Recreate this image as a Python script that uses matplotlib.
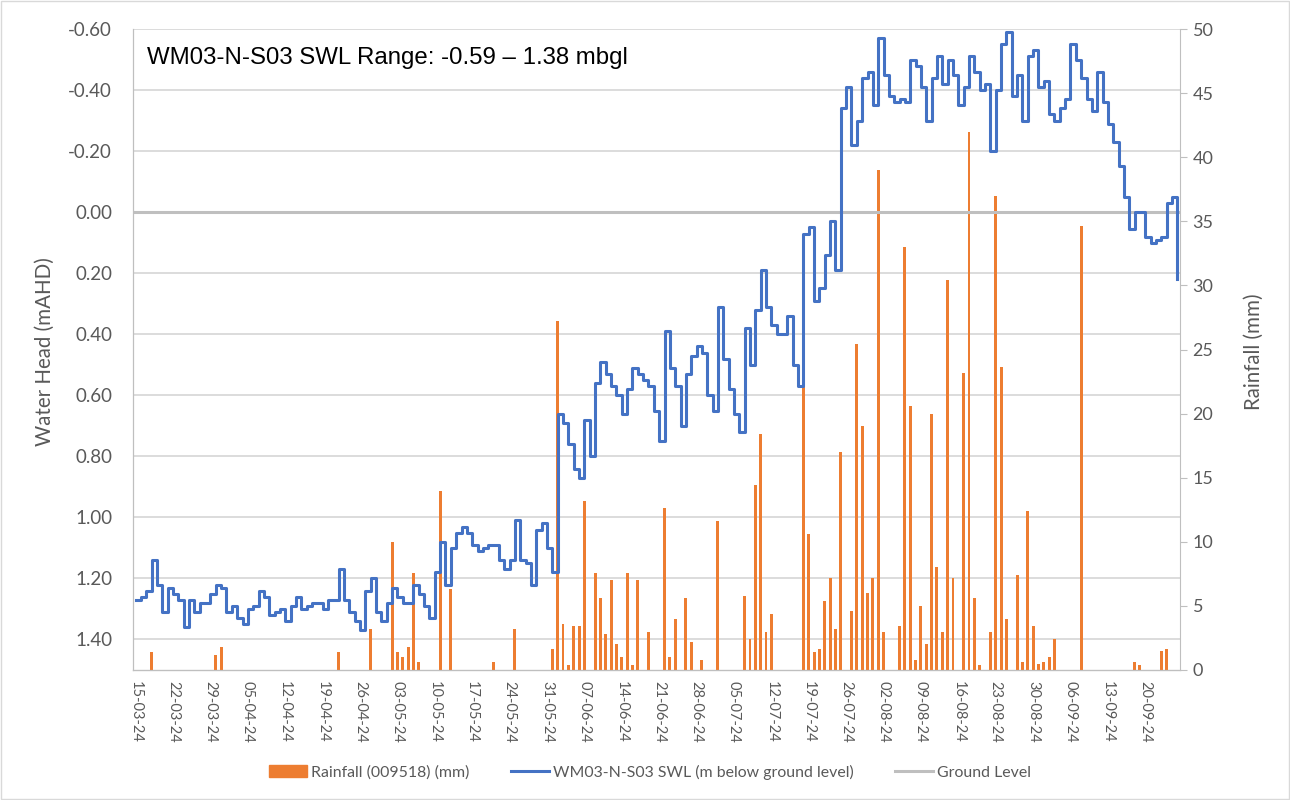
import matplotlib
matplotlib.use('Agg')
import matplotlib.pyplot as plt
import matplotlib.dates as mdates
import matplotlib.patches as mpatches
from matplotlib.lines import Line2D
from matplotlib.ticker import FuncFormatter, MultipleLocator
import pandas as pd

# daily standing water level (m below ground), from 15-03-24
start = pd.Timestamp('2024-03-15')
swl = [
    1.27, 1.26, 1.24, 1.14, 1.22, 1.31, 1.23, 1.25, 1.27, 1.36,
    1.27, 1.31, 1.28, 1.28, 1.25, 1.22, 1.23, 1.31, 1.29, 1.33,
    1.35, 1.30, 1.29, 1.24, 1.26, 1.32, 1.31, 1.30, 1.34, 1.29,
    1.26, 1.30, 1.29, 1.28, 1.28, 1.30, 1.27, 1.27, 1.17, 1.27,
    1.31, 1.34, 1.37, 1.24, 1.20, 1.31, 1.34, 1.28, 1.23, 1.26,
    1.28, 1.28, 1.22, 1.25, 1.29, 1.33, 1.18, 1.08, 1.22, 1.10,
    1.05, 1.03, 1.05, 1.09, 1.11, 1.10, 1.09, 1.09, 1.14, 1.17,
    1.14, 1.01, 1.14, 1.15, 1.22, 1.04, 1.02, 1.10, 1.18, 0.66,
    0.69, 0.76, 0.84, 0.87, 0.68, 0.80, 0.56, 0.49, 0.53, 0.57,
    0.60, 0.66, 0.58, 0.51, 0.53, 0.55, 0.57, 0.65, 0.75, 0.39,
    0.51, 0.57, 0.70, 0.53, 0.47, 0.44, 0.46, 0.60, 0.65, 0.31,
    0.48, 0.58, 0.66, 0.72, 0.38, 0.50, 0.32, 0.19, 0.31, 0.37,
    0.40, 0.40, 0.34, 0.50, 0.57, 0.07, 0.05, 0.29, 0.25, 0.14,
    0.03, 0.19, -0.34, -0.41, -0.22, -0.30, -0.44, -0.46, -0.35, -0.57,
    -0.45, -0.38, -0.36, -0.37, -0.36, -0.50, -0.48, -0.41, -0.30, -0.44,
    -0.51, -0.42, -0.50, -0.45, -0.35, -0.41, -0.51, -0.46, -0.40, -0.42,
    -0.20, -0.40, -0.55, -0.59, -0.38, -0.45, -0.30, -0.51, -0.53, -0.41,
    -0.43, -0.32, -0.30, -0.34, -0.37, -0.55, -0.50, -0.44, -0.37, -0.33,
    -0.46, -0.36, -0.29, -0.23, -0.15, -0.05, 0.055, 0.00, 0.00, 0.08,
    0.10, 0.09, 0.08, -0.03, -0.05, 0.22,
]

# rainfall (009518), days after 15-03-24 and mm
rain_day = [3, 15, 16, 38, 44, 48, 49, 50, 51, 52, 53, 57, 59, 67, 71,
            78, 79, 80, 81, 82, 83, 84, 86, 87, 88, 89, 90, 91, 92, 93,
            94, 96, 99, 100, 101, 103, 104, 106, 109, 114, 115, 116, 117,
            118, 119, 125, 126, 127, 128, 129, 130, 131, 132, 134, 135,
            136, 137, 138, 139, 140, 143, 144, 145, 146, 147, 148, 149,
            150, 151, 152, 153, 155, 156, 157, 158, 160, 161, 162, 163,
            165, 166, 167, 168, 169, 170, 171, 172, 177, 187, 188, 192, 193]
rain_mm = [1.4, 1.2, 1.8, 1.4, 3.2, 10.0, 1.4, 1.0, 1.8, 7.6, 0.6, 14.0, 6.3, 0.6, 3.2,
           1.6, 27.2, 3.6, 0.4, 3.4, 3.4, 13.2, 7.6, 5.6, 2.8, 7.0, 2.0, 1.0, 7.6, 0.4,
           7.0, 3.0, 12.6, 1.0, 4.0, 5.6, 2.2, 0.8, 11.6, 5.8, 2.4, 14.4, 18.4,
           3.0, 4.4, 29.6, 10.6, 1.4, 1.6, 5.4, 7.2, 3.2, 17.0, 4.6, 25.4,
           19.0, 6.0, 7.2, 39.0, 3.0, 3.4, 33.0, 20.6, 0.8, 5.0, 2.0, 20.0,
           8.0, 3.0, 30.4, 7.2, 23.2, 42.0, 5.6, 0.4, 3.0, 37.0, 23.6, 4.0,
           7.4, 0.65, 12.4, 3.4, 0.45, 0.6, 1.0, 2.4, 34.6, 0.6, 0.4, 1.45, 1.65]

ground_level = 0.0
title = 'WM03-N-S03 SWL Range: -0.59 \u2013 1.38 mbgl'

days = pd.date_range(start, periods=len(swl), freq='D')
rain_dates = start + pd.to_timedelta(rain_day, unit='D')

plt.rcParams['font.family'] = ['Lato', 'DejaVu Sans']
txt = '#595959'
grid_c = '#D9D9D9'
axis_c = '#BFBFBF'

fig = plt.figure(figsize=(12.9, 8.0), dpi=100)
ax = fig.add_axes([133/1290, 130/800, 1047/1290, 641/800])
ax2 = ax.twinx()
ax3 = ax.twinx()

# left axis: gridlines + labels
ax.set_ylim(1.5, -0.6)
ax.yaxis.set_major_locator(MultipleLocator(0.2))
ax.yaxis.set_major_formatter(FuncFormatter(lambda v, p: f'{v:.2f}'))
ax.yaxis.grid(True, color=grid_c, lw=1.3)
ax.set_axisbelow(True)
ax.tick_params(axis='y', length=0, pad=15, labelsize=13.5, labelcolor=txt)
ax.set_ylabel('Water Head (mAHD)', fontsize=14.8, color=txt)
ax.yaxis.set_label_coords(-0.0745, 0.496)

# rainfall bars
ax2.bar(rain_dates, rain_mm, width=0.55, color='#ED7D31', zorder=2)
ax2.set_ylim(0, 50)
ax2.yaxis.set_major_locator(MultipleLocator(5))
ax2.tick_params(axis='y', length=5, color=axis_c, pad=4, labelsize=13, labelcolor=txt)
ax2.set_ylabel('Rainfall (mm)', fontsize=14.8, color=txt, rotation=90)
ax2.yaxis.set_label_coords(1.061, 0.496)

# water level line on top
ax3.set_ylim(1.5, -0.6)
ax3.axhline(ground_level, color=axis_c, lw=2.2)
ax3.step(days, swl, where='post', color='#4472C4', lw=2.2)
ax3.set_yticks([])

for a in (ax, ax2, ax3):
    a.spines['top'].set_visible(False)
    for s in ('left', 'right', 'bottom'):
        a.spines[s].set_color(axis_c)
ax3.spines['left'].set_visible(False)
ax3.spines['right'].set_visible(False)
ax.spines['right'].set_visible(False)

ax.set_xlim(start - pd.Timedelta(hours=12), start + pd.Timedelta(days=195, hours=12))
ax.set_xticks(pd.date_range(start, start + pd.Timedelta(days=189), freq='7D'))
ax.xaxis.set_major_formatter(mdates.DateFormatter('%d-%m-%y'))
ax.tick_params(axis='x', length=0, pad=8, labelsize=10.5, labelcolor=txt)
for lab in ax.get_xticklabels():
    lab.set_rotation(-90)
    lab.set_ha('center')
    lab.set_va('top')

fig.text(147/1290, 1 - 58/800, title, fontsize=17.3, family='Liberation Sans',
         va='center', ha='left', color='black')

handles = [mpatches.Patch(color='#ED7D31'),
           Line2D([], [], color='#4472C4', lw=2.2),
           Line2D([], [], color=axis_c, lw=2.2)]
labels = ['Rainfall (009518) (mm)', 'WM03-N-S03 SWL (m below ground level)', 'Ground Level']
fig.legend(handles, labels, loc='center', bbox_to_anchor=(650/1290, 1 - 772/800),
           ncol=3, frameon=False, fontsize=11.4, handlelength=2.4, handleheight=0.7,
           handletextpad=0.25, columnspacing=2.6, labelcolor=txt)

fig.patches.append(mpatches.Rectangle((0.0008, 0.0012), 0.9984, 0.9976, transform=fig.transFigure,
                                      fill=False, edgecolor=grid_c, lw=1))

fig.savefig('out.png', dpi=100, facecolor='white')
